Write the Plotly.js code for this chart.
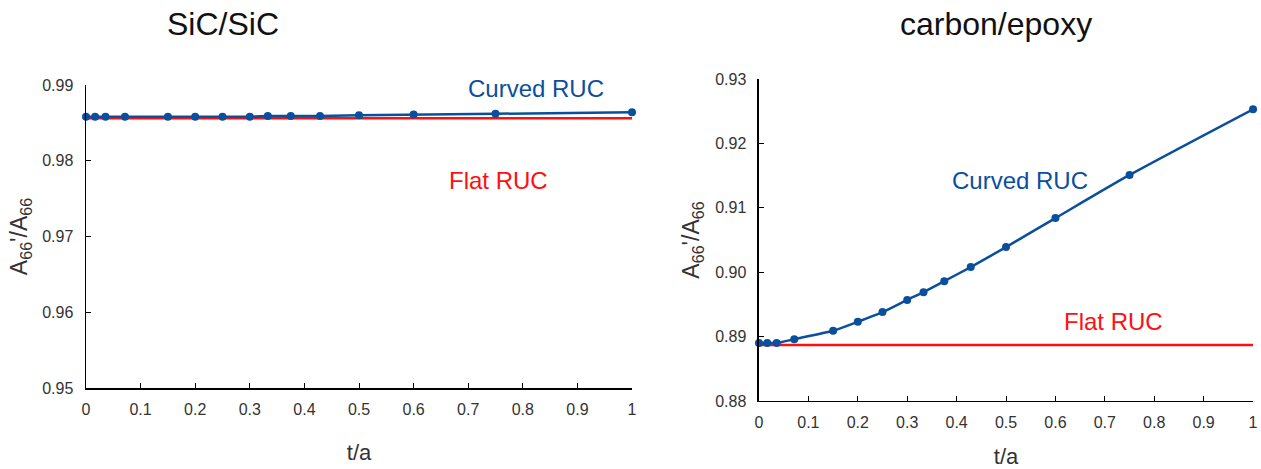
<!DOCTYPE html>
<html>
<head>
<meta charset="utf-8">
<script src="https://cdn.plot.ly/plotly-3.0.1.min.js"></script>
<style>html,body{margin:0;padding:0;background:#fff}#chart{width:1261px;height:469px}</style>
</head>
<body>
<div id="chart"></div>
<script>
// t/a values (shared by both panels)
const tA = [0, 0.0167, 0.0357, 0.0714, 0.15, 0.2, 0.25, 0.3, 0.333, 0.375, 0.4286, 0.5, 0.6, 0.75, 1.0];
// SiC/SiC panel
const sicCurved = [0.9858, 0.9858, 0.9858, 0.9858, 0.9858, 0.9858, 0.9858, 0.9858, 0.9859, 0.9859, 0.9859, 0.9860, 0.9861, 0.9862, 0.9864];
const sicFlatX = [0, 1];
const sicFlat = [0.9856, 0.9856];
// carbon/epoxy panel
const ceCurved = [0.8890, 0.8890, 0.8890, 0.8896, 0.8909, 0.8923, 0.8938, 0.8957, 0.8969, 0.8986, 0.9008, 0.9039, 0.9084, 0.9151, 0.9253];
const ceFlatX = [0, 1];
const ceFlat = [0.8887, 0.8887];
// tick labels
const xTickVals = [0, 0.1, 0.2, 0.3, 0.4, 0.5, 0.6, 0.7, 0.8, 0.9, 1];
const xTickText = ['0', '0.1', '0.2', '0.3', '0.4', '0.5', '0.6', '0.7', '0.8', '0.9', '1'];
const sicYTicks = [0.95, 0.96, 0.97, 0.98, 0.99];
const sicYText = ['0.95', '0.96', '0.97', '0.98', '0.99'];
const ceYTicks = [0.88, 0.89, 0.90, 0.91, 0.92, 0.93];
const ceYText = ['0.88', '0.89', '0.90', '0.91', '0.92', '0.93'];

const BLUE = '#0a4f9e';
const RED = '#ff1010';
const FONT = 'Liberation Sans, Arial, sans-serif';
const TXT = '#333';

const traces = [
  {x: sicFlatX, y: sicFlat, xaxis: 'x', yaxis: 'y', mode: 'lines', line: {color: RED, width: 2.5}, hoverinfo: 'skip', cliponaxis: false},
  {x: tA, y: sicCurved, xaxis: 'x', yaxis: 'y', mode: 'lines+markers', line: {color: BLUE, width: 2.5}, marker: {color: BLUE, size: 8}, cliponaxis: false},
  {x: ceFlatX, y: ceFlat, xaxis: 'x2', yaxis: 'y2', mode: 'lines', line: {color: RED, width: 2.5}, hoverinfo: 'skip', cliponaxis: false},
  {x: tA, y: ceCurved, xaxis: 'x2', yaxis: 'y2', mode: 'lines+markers', line: {color: BLUE, width: 2.5, shape: 'spline', smoothing: 0.6}, marker: {color: BLUE, size: 8}, cliponaxis: false}
];

function xAxis(domain, anchor, standoff) {
  return {
    domain: domain, anchor: anchor, range: [0, 1], showgrid: false, zeroline: false,
    showline: true, linecolor: '#000', linewidth: 1.5, ticks: 'inside', ticklen: 5, tickcolor: '#000',
    tickvals: xTickVals, ticktext: xTickText, tickfont: {family: FONT, size: 16, color: TXT},
    ticklabelstandoff: 6,
    title: {text: 't/a', font: {family: FONT, size: 22, color: TXT}, standoff: standoff}
  };
}
function yAxis(domain, anchor, range, tv, tt, standoff) {
  return {
    domain: domain, anchor: anchor, range: range, showgrid: false, zeroline: false,
    showline: true, linecolor: '#000', linewidth: 1.5, ticks: 'inside', ticklen: 5, tickcolor: '#000',
    tickvals: tv, ticktext: tt, tickfont: {family: FONT, size: 16, color: TXT},
    ticklabelstandoff: 8,
    title: {text: "A<sub>66</sub>'/A<sub>66</sub>", font: {family: FONT, size: 23, color: TXT}, standoff: standoff}
  };
}

const layout = {
  width: 1261, height: 469, margin: {l: 0, r: 0, t: 0, b: 0},
  paper_bgcolor: '#fff', plot_bgcolor: '#fff', showlegend: false,
  xaxis: xAxis([0.0682, 0.5012], 'y', 28),
  yaxis: yAxis([0.1727, 0.8188], 'x', [0.95, 0.99], sicYTicks, sicYText, 8),
  xaxis2: xAxis([0.6019, 0.9937], 'y2', 26),
  yaxis2: yAxis([0.145, 0.8316], 'x2', [0.88, 0.93], ceYTicks, ceYText, 9),
  annotations: [
    {xref: 'paper', yref: 'paper', x: 223 / 1261, y: 1 - 24 / 469, xanchor: 'center', yanchor: 'middle', text: 'SiC/SiC', showarrow: false, font: {family: FONT, size: 32, color: '#111'}},
    {xref: 'paper', yref: 'paper', x: 996 / 1261, y: 1 - 24 / 469, xanchor: 'center', yanchor: 'middle', text: 'carbon/epoxy', showarrow: false, font: {family: FONT, size: 32, color: '#111'}},
    {xref: 'x', yref: 'y', x: 0.824, y: 0.9896, xanchor: 'center', yanchor: 'middle', text: 'Curved RUC', showarrow: false, font: {family: FONT, size: 24, color: BLUE}},
    {xref: 'x', yref: 'y', x: 0.7546, y: 0.97733, xanchor: 'center', yanchor: 'middle', text: 'Flat RUC', showarrow: false, font: {family: FONT, size: 24, color: RED}},
    {xref: 'x2', yref: 'y2', x: 0.528, y: 0.91416, xanchor: 'center', yanchor: 'middle', text: 'Curved RUC', showarrow: false, font: {family: FONT, size: 24, color: BLUE}},
    {xref: 'x2', yref: 'y2', x: 0.7166, y: 0.89242, xanchor: 'center', yanchor: 'middle', text: 'Flat RUC', showarrow: false, font: {family: FONT, size: 24, color: RED}}
  ]
};

Plotly.newPlot('chart', traces, layout, {displayModeBar: false, staticPlot: true});
</script>
</body>
</html>
